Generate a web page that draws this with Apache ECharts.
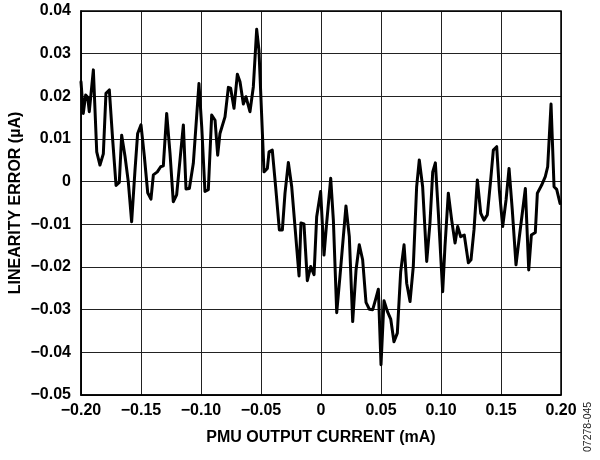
<!DOCTYPE html>
<html>
<head>
<meta charset="utf-8">
<script src="https://cdn.jsdelivr.net/npm/echarts@6/dist/echarts.min.js"></script>
<style>
html,body{margin:0;padding:0;background:#fff;}
#chart{width:600px;height:460px;}
</style>
</head>
<body>
<div id="chart"></div>
<script>
// Output current (mA)
var currentMA = [
-0.2000,-0.1981,-0.1961,-0.1944,-0.1931,-0.1897,-0.1869,-0.1842,-0.1814,-0.1792,
-0.1764,-0.1736,-0.1708,-0.1681,-0.1661,-0.1633,-0.1606,-0.1578,-0.1550,-0.1528,
-0.1500,-0.1472,-0.1444,-0.1417,-0.1397,-0.1364,-0.1336,-0.1314,-0.1286,-0.1258,
-0.1231,-0.1203,-0.1175,-0.1147,-0.1125,-0.1097,-0.1064,-0.1017,-0.0994,-0.0967,
-0.0939,-0.0911,-0.0883,-0.0861,-0.0842,-0.0800,-0.0772,-0.0753,-0.0725,-0.0697,
-0.0675,-0.0647,-0.0625,-0.0592,-0.0564,-0.0536,-0.0517,-0.0475,-0.0447,-0.0433,
-0.0406,-0.0378,-0.0347,-0.0322,-0.0300,-0.0272,-0.0244,-0.0217,-0.0183,-0.0167,
-0.0142,-0.0114,-0.0086,-0.0058,-0.0036,-0.0003,0.0025,0.0047,0.0081,0.0103,
0.0131,0.0158,0.0208,0.0236,0.0264,0.0292,0.0319,0.0347,0.0375,0.0403,
0.0431,0.0458,0.0478,0.0500,0.0525,0.0553,0.0581,0.0608,0.0636,0.0664,
0.0692,0.0714,0.0742,0.0769,0.0797,0.0819,0.0847,0.0881,0.0908,0.0931,
0.0953,0.0978,0.1014,0.1033,0.1061,0.1089,0.1117,0.1139,0.1164,0.1194,
0.1228,0.1250,0.1275,0.1303,0.1331,0.1358,0.1386,0.1414,0.1436,0.1464,
0.1486,0.1514,0.1542,0.1567,0.1594,0.1625,0.1653,0.1703,0.1731,0.1753,
0.1786,0.1803,0.1839,0.1869,0.1889,0.1917,0.1942,0.1964,0.1992
];
// Linearity error (uA)
var linearityErrorUA = [
0.0234,0.0160,0.0203,0.0198,0.0164,0.0262,0.0070,0.0039,0.0065,0.0207,
0.0215,0.0098,-0.0009,-0.0002,0.0109,0.0059,0.0000,-0.0094,0.0027,0.0113,
0.0133,0.0059,-0.0026,-0.0041,0.0016,0.0023,0.0035,0.0037,0.0160,0.0066,
-0.0047,-0.0031,0.0051,0.0133,-0.0017,-0.0016,0.0043,0.0230,0.0129,-0.0023,
-0.0019,0.0156,0.0144,0.0062,0.0113,0.0152,0.0221,0.0219,0.0172,0.0252,
0.0234,0.0182,0.0199,0.0164,0.0222,0.0357,0.0308,0.0023,0.0031,0.0070,
0.0074,-0.0012,-0.0113,-0.0113,-0.0027,0.0045,-0.0012,-0.0105,-0.0221,-0.0097,
-0.0099,-0.0232,-0.0199,-0.0218,-0.0082,-0.0023,-0.0172,-0.0097,0.0008,-0.0090,
-0.0307,-0.0222,-0.0057,-0.0129,-0.0328,-0.0207,-0.0148,-0.0183,-0.0283,-0.0299,
-0.0300,-0.0273,-0.0252,-0.0429,-0.0279,-0.0304,-0.0322,-0.0375,-0.0355,-0.0211,
-0.0148,-0.0238,-0.0281,-0.0199,-0.0012,0.0051,-0.0012,-0.0187,-0.0097,0.0023,
0.0044,-0.0074,-0.0258,-0.0152,-0.0027,-0.0090,-0.0144,-0.0105,-0.0129,-0.0125,
-0.0190,-0.0183,-0.0113,0.0004,-0.0074,-0.0090,-0.0078,0.0004,0.0074,0.0082,
-0.0019,-0.0105,-0.0043,0.0031,-0.0066,-0.0195,-0.0129,-0.0016,-0.0207,-0.0125,
-0.0119,-0.0027,-0.0008,0.0012,0.0035,0.0182,-0.0012,-0.0018,-0.0051
];
var xTickLabels = ['\u22120.20','\u22120.15','\u22120.10','\u22120.05','0','0.05','0.10','0.15','0.20'];
var yTickLabels = ['\u22120.05','\u22120.04','\u22120.03','\u22120.02','\u22120.01','0','0.01','0.02','0.03','0.04'];
var xName = 'PMU OUTPUT CURRENT (mA)';
var yName = 'LINEARITY ERROR (\u00b5A)';
var figureId = '07278-045';

var points = currentMA.map(function (x, i) { return [x, linearityErrorUA[i]]; });
function xLabel(v) { return xTickLabels[Math.round((v + 0.20) / 0.05)]; }
function yLabel(v) { return yTickLabels[Math.round((v + 0.05) / 0.01)]; }

var FONT = '"Liberation Sans", Arial, sans-serif';
var chart = echarts.init(document.getElementById('chart'), null, {renderer: 'canvas'});
chart.setOption({
  backgroundColor: '#ffffff',
  animation: false,
  grid: {left: 81, right: 39, top: 11, bottom: 65, show: false, containLabel: false, outerBoundsMode: 'none'},
  xAxis: {
    type: 'value', min: -0.20, max: 0.20, interval: 0.05,
    name: xName, nameLocation: 'middle', nameGap: 35, nameMoveOverlap: false,
    nameTextStyle: {fontFamily: FONT, fontWeight: 'bold', fontSize: 16, color: '#000'},
    axisLine: {show: true, onZero: false, lineStyle: {color: '#000', width: 1.5}},
    axisTick: {show: false},
    axisLabel: {formatter: xLabel, fontFamily: FONT, fontWeight: 'bold', fontSize: 16, color: '#000', margin: 8},
    splitLine: {show: true, lineStyle: {color: '#222', width: 1}}
  },
  yAxis: {
    type: 'value', min: -0.05, max: 0.04, interval: 0.01,
    name: yName, nameLocation: 'middle', nameRotate: 90, nameGap: 57, nameMoveOverlap: false,
    nameTextStyle: {fontFamily: FONT, fontWeight: 'bold', fontSize: 16, color: '#000'},
    axisLine: {show: true, onZero: false, lineStyle: {color: '#000', width: 1.5}},
    axisTick: {show: false},
    axisLabel: {formatter: yLabel, fontFamily: FONT, fontWeight: 'bold', fontSize: 16, color: '#000', margin: 10},
    splitLine: {show: true, lineStyle: {color: '#222', width: 1}}
  },
  graphic: [
    {type: 'rect', shape: {x: 81, y: 11, width: 480, height: 384}, style: {fill: 'none', stroke: '#000', lineWidth: 1.5}, silent: true, z: 10},
    {type: 'text', x: 594, y: 452, rotation: Math.PI / 2,
     style: {text: figureId, fontFamily: FONT, fontSize: 10.5, fill: '#222', textAlign: 'left', textVerticalAlign: 'bottom'}}
  ],
  series: [{
    type: 'line', data: points, showSymbol: false, smooth: false,
    lineStyle: {color: '#000', width: 3, join: 'round', cap: 'round'},
    z: 5
  }]
});
</script>
</body>
</html>
